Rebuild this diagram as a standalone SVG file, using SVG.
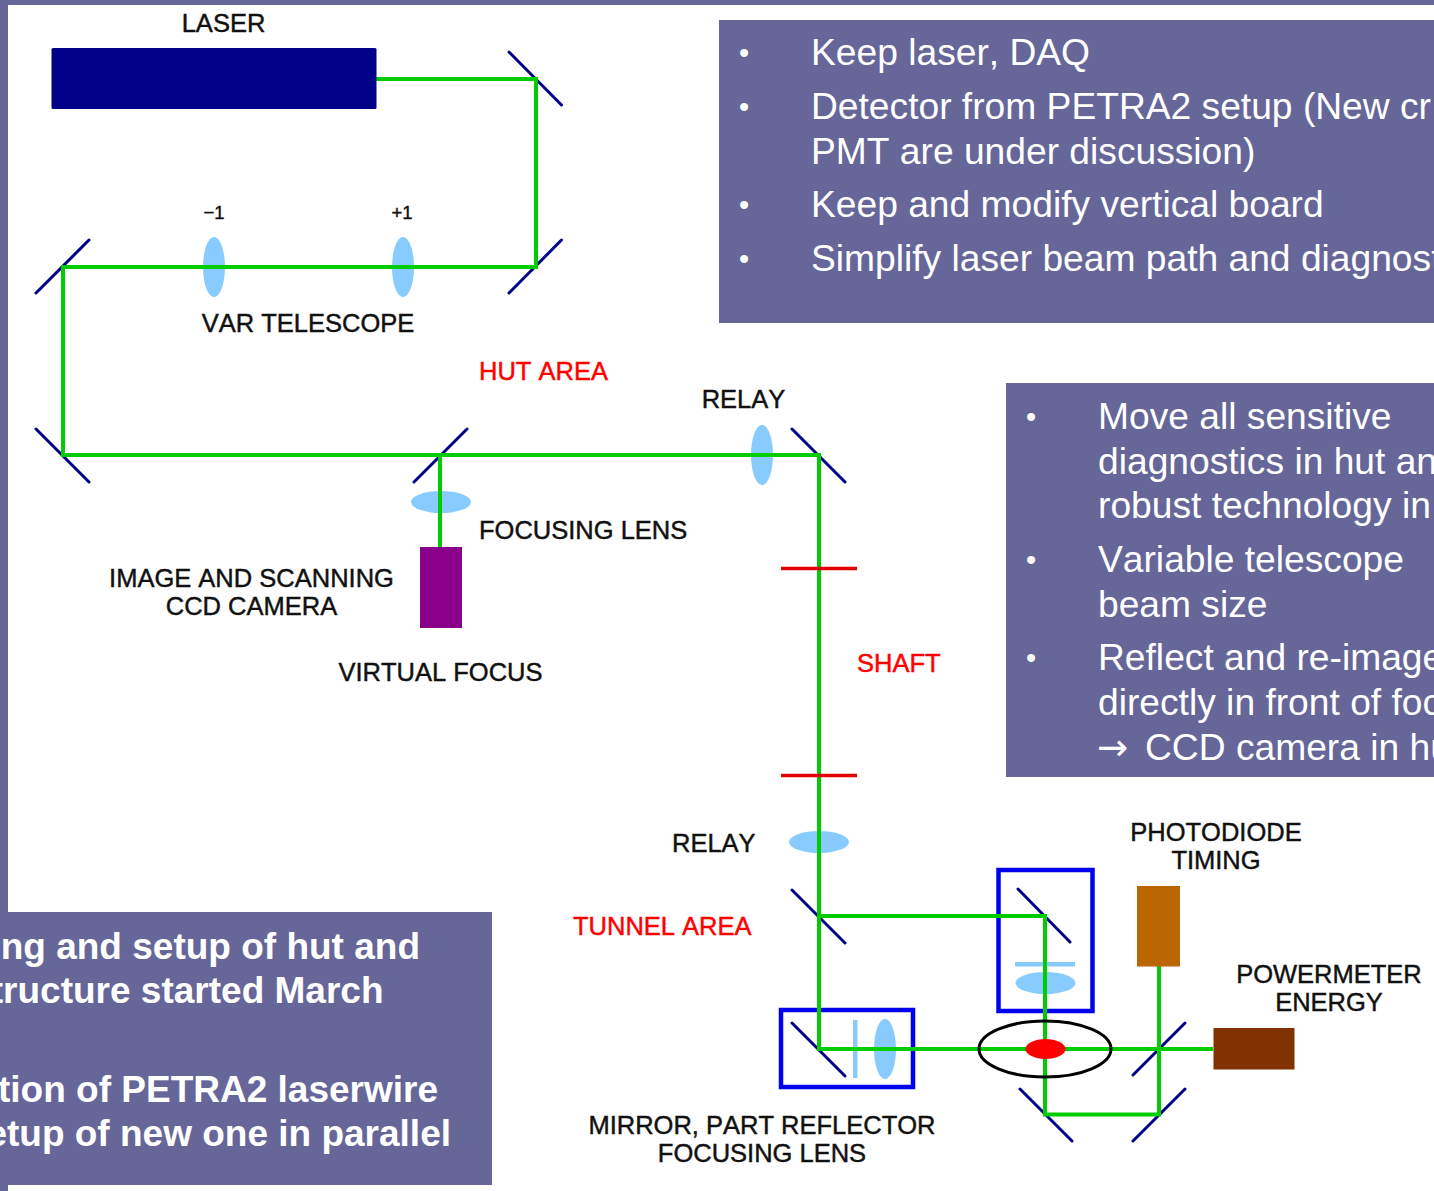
<svg xmlns="http://www.w3.org/2000/svg" width="1434" height="1191" viewBox="0 0 1434 1191">
<style>
text{font-family:"Liberation Sans",Arial,sans-serif}
.l{font-size:25.5px;fill:#111;stroke:#111;stroke-width:.45px;font-kerning:none}
.c{text-anchor:middle}
.r{font-size:25.5px;fill:#f00;stroke:#f00;stroke-width:.45px;font-kerning:none}
.s{font-size:18.5px;fill:#111;stroke:#111;stroke-width:.4px;font-kerning:none}
.p{fill:#666699}
.t{font-size:37.200px;fill:#fff;font-kerning:none}
.u{font-size:29px;fill:#fff}
.b{font-size:37px;fill:#fff;font-weight:bold}
.m{stroke:#000088;stroke-width:3;fill:none;stroke-linecap:round}
.g{stroke:#00cc00;stroke-width:4;fill:none;stroke-linejoin:miter}
.n{fill:#88ccff}
.f{fill:none;stroke:#0000ee;stroke-width:4.5}
</style>
<rect width="1434" height="1191" fill="#fff"/>
<g id="frame"><rect class="p" width="1434" height="5"/><rect class="p" width="8" height="1191"/></g>

<g id="panel-top"><rect class="p" x="719" y="20" width="715" height="303"/>
<text class="u" x="739" y="63">•</text><text class="t" x="811" y="65">Keep laser, DAQ</text>
<text class="u" x="739" y="117">•</text><text class="t" x="811" y="119">Detector from PETRA2 setup (New cr</text>
<text class="t" x="811" y="164">PMT are under discussion)</text>
<text class="u" x="739" y="215">•</text><text class="t" x="811" y="217">Keep and modify vertical board</text>
<text class="u" x="739" y="269">•</text><text class="t" x="811" y="271">Simplify laser beam path and diagnost</text></g>

<g id="panel-right"><rect class="p" x="1006" y="383" width="428" height="394"/>
<text class="u" x="1026" y="427">•</text><text class="t" x="1098" y="429">Move all sensitive</text>
<text class="t" x="1098" y="474">diagnostics in hut an</text>
<text class="t" x="1098" y="518">robust technology in</text>
<text class="u" x="1026" y="570">•</text><text class="t" x="1098" y="572">Variable telescope</text>
<text class="t" x="1098" y="617">beam size</text>
<text class="u" x="1026" y="668">•</text><text class="t" x="1098" y="670">Reflect and re-image</text>
<text class="t" x="1098" y="715">directly in front of foc</text>
<text class="t" x="1097" y="760" style="font-family:'DejaVu Sans',sans-serif">→</text><text class="t" x="1145" y="760">CCD camera in hu</text></g>

<g id="panel-bottom"><rect class="p" x="0" y="912" width="492" height="273"/>
<text class="b" x="420" y="959" text-anchor="end">ng and setup of hut and</text>
<text class="b" x="383.500" y="1003" text-anchor="end">tructure started March</text>
<text class="b" x="438" y="1102" text-anchor="end">tion of PETRA2 laserwire</text>
<text class="b" x="451" y="1146" text-anchor="end">etup of new one in parallel</text></g>

<g id="lenses">
<ellipse class="n" cx="214" cy="267" rx="11" ry="30"/>
<ellipse class="n" cx="403" cy="267" rx="11" ry="30"/>
<ellipse class="n" cx="441" cy="502" rx="30" ry="11"/>
<ellipse class="n" cx="762" cy="455" rx="11" ry="30"/>
<ellipse class="n" cx="819" cy="842" rx="30" ry="11"/>
<ellipse class="n" cx="1045.500" cy="983" rx="30" ry="11"/>
<rect class="n" x="1015" y="962" width="60" height="4.500"/>
<ellipse class="n" cx="885" cy="1049" rx="11" ry="30"/>
<rect class="n" x="853" y="1020" width="4.500" height="58"/>
</g>

<g id="mirrors">
<path class="m" d="M509 52L561.500 105M509 293L561.500 240M36 293L89 240M36 429L89 482M414 482L467 429M792 429L845 482M792 890L845 943M1018 889L1070 942M792 1023L845 1076M1020 1089L1072 1141M1133 1075L1185 1023M1133 1141L1185 1089"/>
</g>

<g id="box-vertical"><rect class="f" x="998.500" y="870" width="94" height="141"/></g>
<g id="box-horizontal"><rect class="f" x="781" y="1010" width="132" height="77"/></g>

<g id="connectors">
<path class="g" d="M376 79H536V267H63V455H819V1049H1213"/>
<path class="g" d="M440 455V547"/>
<path class="g" d="M819 916H1045V1114.500H1159V966"/>
</g>

<g id="laser"><rect x="51.500" y="48" width="325" height="61" rx="1.500" fill="#000088"/><text class="l c" x="223.500" y="32">LASER</text></g>
<g id="telescope-labels"><text class="s c" x="214" y="219">−1</text><text class="s c" x="402" y="219">+1</text><text class="l c" x="308" y="332">VAR TELESCOPE</text></g>
<g id="hut-area"><text class="r" x="479" y="380">HUT AREA</text></g>
<g id="relay-top"><text class="l c" x="743.500" y="408">RELAY</text></g>
<g id="focusing-lens"><text class="l" x="479" y="539">FOCUSING LENS</text></g>
<g id="ccd-camera"><rect x="420" y="547" width="42" height="81" fill="#8b008b"/>
<text class="l c" x="251.500" y="587">IMAGE AND SCANNING</text><text class="l c" x="251.500" y="615">CCD CAMERA</text></g>
<g id="virtual-focus"><text class="l c" x="440.500" y="681">VIRTUAL FOCUS</text></g>
<g id="shaft"><path d="M781 568.500H857M781 775.500H857" stroke="#e00000" stroke-width="3.500"/><text class="r" x="857" y="672">SHAFT</text></g>
<g id="relay-bottom"><text class="l" x="672" y="852">RELAY</text></g>
<g id="tunnel-area"><text class="r" x="573" y="935">TUNNEL AREA</text></g>
<g id="interaction-point"><ellipse cx="1045" cy="1049" rx="66" ry="28" fill="none" stroke="#000" stroke-width="3"/><ellipse cx="1045.500" cy="1049" rx="20" ry="10" fill="#f00"/></g>
<g id="photodiode"><rect x="1137" y="886" width="43" height="80.500" fill="#bb6600"/><text class="l c" x="1216" y="841">PHOTODIODE</text><text class="l c" x="1216" y="869">TIMING</text></g>
<g id="powermeter"><rect x="1213.500" y="1028" width="81" height="41.500" fill="#803300"/><text class="l c" x="1329" y="983">POWERMETER</text><text class="l c" x="1329" y="1011">ENERGY</text></g>
<g id="mirror-label"><text class="l c" x="762" y="1134">MIRROR, PART REFLECTOR</text><text class="l c" x="762" y="1162">FOCUSING LENS</text></g>
</svg>
